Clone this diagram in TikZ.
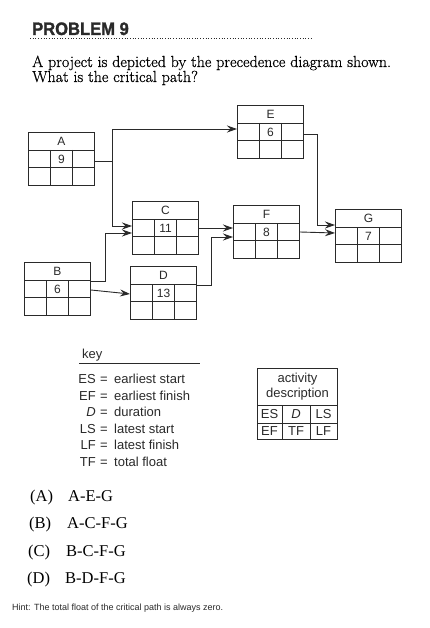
\documentclass[tikz,border=0pt]{standalone}
\usepackage{fontspec}
\setsansfont{Liberation Sans}
\newfontfamily\timesf{Liberation Serif}
\newfontfamily\qfont[FakeBold=0.6]{Latin Modern Roman}
\newfontfamily\titlefont[FakeBold=1.5]{Liberation Sans Bold}
\usetikzlibrary{calc,arrows.meta}
\definecolor{ink}{HTML}{2A2A2A}
\tikzset{
  actbox/.style={draw=ink,line width=1pt,rectangle,anchor=north west,minimum width=66pt,minimum height=53pt,inner sep=0pt},
  grid/.style={draw=ink,line width=0.9pt},
  lbl/.style={font=\sffamily\fontsize{12}{12}\selectfont,inner sep=0pt,text=ink},
  conn/.style={draw=ink,line width=0.9pt,-{Stealth[length=10pt,width=7pt,inset=3.5pt]}},
  keytxt/.style={font=\sffamily\fontsize{13}{13}\selectfont,inner sep=0pt,text=ink},
  ans/.style={font=\timesf\fontsize{16.5}{16.5}\selectfont,inner sep=0pt,anchor=base west},
}
\newcommand\actbox[5]{%
  \node[actbox] (#1) at (#2,#3) {};
  \draw[grid] ($(#1.north west)+(0,18)$) -- ($(#1.north east)+(0,18)$);
  \draw[grid] ($(#1.north west)+(0,35.5)$) -- ($(#1.north east)+(0,35.5)$);
  \draw[grid] ($(#1.north west)+(22,18)$) -- ($(#1.south west)+(22,0)$);
  \draw[grid] ($(#1.north west)+(44,18)$) -- ($(#1.south west)+(44,0)$);
  \node[lbl] (#1h) at ($(#1.north)+(0,9.5)$) {#4};
  \node[lbl] (#1d) at ($(#1.north)+(0,27)$) {#5};
}
\begin{document}
\begin{tikzpicture}[x=1pt,y=-1pt]
\useasboundingbox[fill=white] (0,0) rectangle (429,628);
% title
\node[anchor=base west,font=\titlefont\fontsize{18}{18}\selectfont,inner sep=0pt,xscale=0.92,text=ink] (title) at (32,35) {PROBLEM 9};
\coordinate (dl1) at (30,38.5);
\coordinate (dl2) at (312,38.5);
\draw[ink,line width=0.7pt,dotted] (dl1) -- (dl2);
\node[anchor=base west,font=\qfont\fontsize{16}{16}\selectfont,inner sep=0pt] (q1) at (32,67) {A project is depicted by the precedence diagram shown.};
\node[anchor=base west,font=\qfont\fontsize{16}{16}\selectfont,inner sep=0pt] (q2) at (32,82) {What is the critical path?};
% boxes
\actbox{A}{28}{132}{A}{9}
\actbox{B}{24}{262}{B}{6}
\actbox{C}{132}{201}{C}{11}
\actbox{D}{130}{266}{D}{13}
\actbox{E}{237}{105}{E}{6}
\actbox{F}{233}{205}{F}{8}
\actbox{G}{335}{209}{G}{7}
% connectors
\draw[conn] ($(A.north east)+(0,29)$) -- ++(17,0) |- ($(E.north west)+(0,24)$);
\draw[conn] ($(A.north east)+(0,29)$) -- ++(17,0) |- ($(C.north west)+(0,25)$);
\draw[conn] ($(B.north east)+(0,19)$) -- ++(14,0) |- ($(C.north west)+(0,32)$);
\draw[conn] ($(B.north east)+(0,28)$) -- ($(D.north west)+(0,28)$);
\draw[conn] ($(C.north east)+(0,27)$) -- ($(F.north west)+(0,23)$);
\draw[conn] ($(D.north east)+(0,19)$) -- ++(14,0) |- ($(F.north west)+(0,32)$);
\draw[conn] ($(E.north east)+(0,29)$) -- ++(13,0) |- ($(G.north west)+(0,16)$);
\draw[conn] ($(F.north east)+(0,27)$) -- ($(G.north west)+(0,24)$);
% key
\node[keytxt,anchor=base west] (key) at (82,358) {key};
\coordinate (ku1) at (79,363.5);
\coordinate (ku2) at (200,363.5);
\draw[ink,line width=0.9pt] (ku1) -- (ku2);
\foreach \n/\a/\b/\y in {k1/ES/earliest start/383, k2/EF/earliest finish/400, k3/\textit{D}/duration/416, k4/LS/latest start/433, k5/LF/latest finish/449, k6/TF/total float/466}{
  \node[keytxt,anchor=base east] (\n a) at (96,\y) {\a};
  \node[keytxt,anchor=base] (\n e) at (104,\y) {=};
  \node[keytxt,anchor=base west] (\n b) at (114,\y) {\b};
}
% key box
\node[draw=ink,line width=1pt,rectangle,anchor=north west,minimum width=80pt,minimum height=71pt,inner sep=0pt] (kb) at (257,368) {};
\draw[grid] ($(kb.north west)+(0,37)$) -- ($(kb.north east)+(0,37)$);
\draw[grid] ($(kb.north west)+(0,55)$) -- ($(kb.north east)+(0,55)$);
\draw[grid] ($(kb.north west)+(25,37)$) -- ($(kb.south west)+(25,0)$);
\draw[grid] ($(kb.north west)+(53,37)$) -- ($(kb.south west)+(53,0)$);
\node[keytxt] (kba) at ($(kb.north)+(0,11)$) {activity};
\node[keytxt] (kbd) at ($(kb.north)+(0,26)$) {description};
\node[keytxt] (kes) at ($(kb.north west)+(12.5,46.5)$) {ES};
\node[keytxt] (kd) at ($(kb.north west)+(39,46.5)$) {\textit{D}};
\node[keytxt] (kls) at ($(kb.north west)+(66.5,46.5)$) {LS};
\node[keytxt] (kef) at ($(kb.north west)+(12.5,63.5)$) {EF};
\node[keytxt] (ktf) at ($(kb.north west)+(39,63.5)$) {TF};
\node[keytxt] (klf) at ($(kb.north west)+(66.5,63.5)$) {LF};
% answers
\node[ans] (oa) at (30,501) {(A)};
\node[ans] (ta) at (68,501) {A-E-G};
\node[ans] (ob) at (29,528) {(B)};
\node[ans] (tb) at (67,528) {A-C-F-G};
\node[ans] (oc) at (28,556) {(C)};
\node[ans] (tc) at (66,556) {B-C-F-G};
\node[ans] (od) at (27,583) {(D)};
\node[ans] (td) at (65,583) {B-D-F-G};
\node[anchor=base west,font=\sffamily\fontsize{9}{9}\selectfont,inner sep=0pt,text=ink] (hint) at (12,610) {Hint: The total float of the critical path is always zero.};
\end{tikzpicture}
\end{document}
